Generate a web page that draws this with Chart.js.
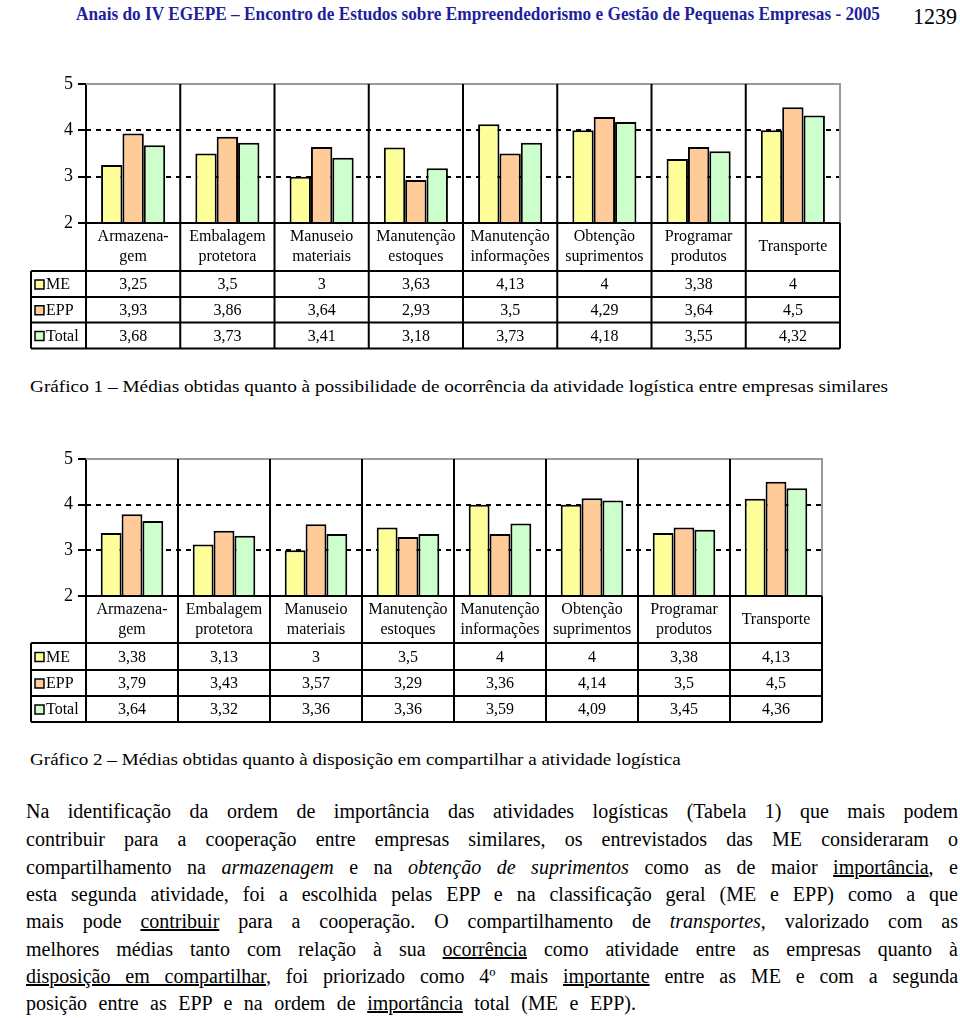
<!DOCTYPE html>
<html>
<head>
<meta charset="utf-8">
<script src="https://cdn.jsdelivr.net/npm/chart.js@4.4.0/dist/chart.umd.min.js"></script>
<style>
  body { margin: 0; width: 960px; height: 1018px; background: #fff; position: relative; overflow: hidden;
         font-family: "Liberation Serif", "Times New Roman", serif; color: #000; }
  .abs { position: absolute; white-space: nowrap; transform-origin: left top; }
  #head { left: 76px; top: 3px; font-weight: bold; font-size: 19px; color: #1f1f9e; }
  #pg { left: 913px; top: 4px; font-size: 23px; }
  .cap { left: 30px; font-size: 17.5px; line-height: 22px; }
  .txt { position: absolute; left: 26px; width: 932px; font-size: 20px; line-height: 26px; white-space: nowrap;
         text-align: justify; text-align-last: justify; }
  .txt.last { width: 610px; }
  canvas { position: absolute; left: 0; }
</style>
</head>
<body>
<div id="head" class="abs">Anais do IV EGEPE – Encontro de Estudos sobre Empreendedorismo e Gestão de Pequenas Empresas - 2005</div>
<div id="pg" class="abs">1239</div>

<canvas id="graf1" width="860" height="300" style="top:60px"></canvas>
<div id="cap1" class="abs cap" style="top:375px">Gráfico 1 – Médias obtidas quanto à possibilidade de ocorrência da atividade logística entre empresas similares</div>

<canvas id="graf2" width="860" height="300" style="top:435px"></canvas>
<div id="cap2" class="abs cap" style="top:748px">Gráfico 2 – Médias obtidas quanto à disposição em compartilhar a atividade logística</div>

<div class="txt" style="top:798px">Na identificação da ordem de importância das atividades logísticas (Tabela 1) que mais podem</div>
<div class="txt" style="top:826px">contribuir para a cooperação entre empresas similares, os entrevistados das ME consideraram o</div>
<div class="txt" style="top:854px">compartilhamento na <i>armazenagem</i> e na <i>obtenção de suprimentos</i> como as de maior <u>importância</u>, e</div>
<div class="txt" style="top:881px">esta segunda atividade, foi a escolhida pelas EPP e na classificação geral (ME e EPP) como a que</div>
<div class="txt" style="top:908px">mais pode <u>contribuir</u> para a cooperação. O compartilhamento de <i>transportes</i>, valorizado com as</div>
<div class="txt" style="top:936px">melhores médias tanto com relação à sua <u>ocorrência</u> como atividade entre as empresas quanto à</div>
<div class="txt" style="top:963px"><u>disposição em compartilhar</u>, foi priorizado como 4º mais <u>importante</u> entre as ME e com a segunda</div>
<div class="txt last" style="top:990px">posição entre as EPP e na ordem de <u>importância</u> total (ME e EPP).</div>

<script>
// data
const categories = [["Armazena-", "gem"], ["Embalagem", "protetora"], ["Manuseio", "materiais"],
  ["Manutenção", "estoques"], ["Manutenção", "informações"], ["Obtenção", "suprimentos"],
  ["Programar", "produtos"], ["Transporte"]];
const seriesNames = ["ME", "EPP", "Total"];
const seriesColors = ["#FFFF99", "#FFCC99", "#CCFFCC"];
const yTicks = [2, 3, 4, 5];

const g1ME = [3.25, 3.5, 3, 3.63, 4.13, 4, 3.38, 4];
const g1EPP = [3.93, 3.86, 3.64, 2.93, 3.5, 4.29, 3.64, 4.5];
const g1Total = [3.68, 3.73, 3.41, 3.18, 3.73, 4.18, 3.55, 4.32];

const g2ME = [3.38, 3.13, 3, 3.5, 4, 4, 3.38, 4.13];
const g2EPP = [3.79, 3.43, 3.57, 3.29, 3.36, 4.14, 3.5, 4.5];
const g2Total = [3.64, 3.32, 3.36, 3.36, 3.59, 4.09, 3.45, 4.36];

const SERIF = '"Liberation Serif", "Times New Roman", serif';
const fmt = v => String(v).replace('.', ',');

// draws gridlines, category separators and the data table under the plot
const excelTable = {
  id: 'excelTable',
  beforeDatasetsDraw(chart, args, opts) {
    const { ctx, chartArea: a, scales: { y } } = chart;
    ctx.save();
    ctx.strokeStyle = '#000';
    ctx.lineWidth = 2;
    ctx.setLineDash([5, 5]);
    yTicks.slice(1, -1).forEach(v => {
      const py = Math.round(y.getPixelForValue(v));
      ctx.beginPath(); ctx.moveTo(a.left, py); ctx.lineTo(a.right, py); ctx.stroke();
    });
    ctx.setLineDash([]);
    ctx.strokeStyle = '#999';
    ctx.beginPath();
    ctx.moveTo(a.left, a.top); ctx.lineTo(a.right, a.top); ctx.lineTo(a.right, a.bottom);
    ctx.stroke();
    ctx.restore();
  },
  afterDraw(chart, args, opts) {
    const { ctx, chartArea: a, scales: { x } } = chart;
    const n = chart.data.labels.length;
    const ys = [a.bottom];
    opts.rows.forEach(h => ys.push(ys[ys.length - 1] + h));
    const bottom = ys[ys.length - 1];
    const edges = [a.left];
    for (let i = 0; i < n - 1; i++) edges.push((x.getPixelForValue(i) + x.getPixelForValue(i + 1)) / 2);
    edges.push(a.right);

    ctx.save();
    ctx.strokeStyle = '#000';
    ctx.lineWidth = 2;
    ctx.beginPath();
    ctx.moveTo(a.left, a.bottom); ctx.lineTo(a.right, a.bottom);
    for (let r = 1; r < ys.length; r++) { ctx.moveTo(opts.left, ys[r]); ctx.lineTo(a.right, ys[r]); }
    ctx.moveTo(opts.left, ys[1]); ctx.lineTo(opts.left, bottom);
    ctx.moveTo(a.left, a.bottom); ctx.lineTo(a.left, bottom);
    for (let i = 1; i < edges.length - 1; i++) { ctx.moveTo(edges[i], a.top); ctx.lineTo(edges[i], bottom); }
    ctx.moveTo(a.right, a.bottom); ctx.lineTo(a.right, bottom);
    ctx.stroke();

    ctx.fillStyle = '#000';
    ctx.textAlign = 'center';
    ctx.textBaseline = 'middle';
    ctx.font = '16px ' + SERIF;
    const midLabel = (ys[0] + ys[1]) / 2;
    chart.data.labels.forEach((lab, i) => {
      const cx = (edges[i] + edges[i + 1]) / 2;
      const lines = Array.isArray(lab) ? lab : [lab];
      lines.forEach((t, k) => ctx.fillText(t, cx, midLabel + (k - (lines.length - 1) / 2) * 20));
    });
    chart.data.datasets.forEach((ds, r) => {
      const cy = (ys[r + 1] + ys[r + 2]) / 2 + 1;
      ds.data.forEach((v, i) => ctx.fillText(fmt(v), (edges[i] + edges[i + 1]) / 2, cy));
      ctx.fillStyle = ds.backgroundColor;
      ctx.fillRect(opts.left + 4, cy - 5, 9, 9);
      ctx.lineWidth = 1.5;
      ctx.strokeRect(opts.left + 4, cy - 5, 9, 9);
      ctx.fillStyle = '#000';
      ctx.textAlign = 'left';
      ctx.fillText(ds.label, opts.left + 15, cy);
      ctx.textAlign = 'center';
    });
    ctx.restore();
  }
};

function makeChart(id, series, pad, rows) {
  return new Chart(document.getElementById(id), {
    type: 'bar',
    data: {
      labels: categories,
      datasets: series.map((d, k) => ({
        label: seriesNames[k],
        data: d,
        backgroundColor: seriesColors[k],
        borderColor: '#000',
        borderWidth: 2,
        borderSkipped: false,
        categoryPercentage: 0.68,
        barPercentage: 1,
      })),
    },
    options: {
      responsive: false,
      animation: false,
      devicePixelRatio: 1,
      layout: { padding: pad },
      plugins: {
        legend: { display: false },
        tooltip: { enabled: false },
        excelTable: { left: 31, rows: rows },
      },
      scales: {
        x: { display: false },
        y: {
          min: yTicks[0],
          max: yTicks[yTicks.length - 1],
          afterBuildTicks: s => { s.ticks = yTicks.map(v => ({ value: v })); },
          afterFit: s => { s.width = 86; },
          ticks: { color: '#000', font: { family: SERIF, size: 18 }, padding: 5 },
          grid: { drawOnChartArea: false, drawTicks: true, tickLength: 8, color: '#000', lineWidth: 2 },
          border: { display: true, color: '#000', width: 2 },
        },
      },
    },
    plugins: [excelTable],
  });
}

// squeeze the single-line texts to the widths they have on the page
function fit(id, w) {
  const el = document.getElementById(id);
  el.style.transform = 'scaleX(' + (w / el.offsetWidth) + ')';
}

Promise.all([
  document.fonts.load('16px "Liberation Serif"'),
  document.fonts.load('18px "Liberation Serif"'),
  document.fonts.load('bold 19px "Liberation Serif"'),
]).catch(() => {}).then(() => {
  makeChart('graf1', [g1ME, g1EPP, g1Total], { top: 24, right: 20, bottom: 137, left: 0 }, [48, 26, 25.5, 26]);
  makeChart('graf2', [g2ME, g2EPP, g2Total], { top: 24, right: 38, bottom: 139, left: 0 }, [47, 27, 26, 26]);
  fit('head', 804);
  fit('pg', 44);
  fit('cap1', 858);
  fit('cap2', 651);
});
</script>
</body>
</html>
